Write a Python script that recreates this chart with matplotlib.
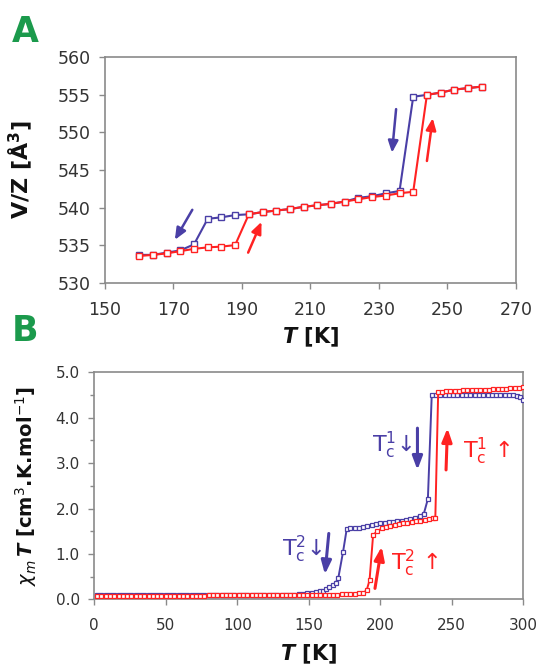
import matplotlib
matplotlib.use("Agg")
import matplotlib.pyplot as plt

plt.rcParams['font.family'] = ['DejaVu Sans']
plt.rcParams['mathtext.fontset'] = 'dejavusans'

BLUE = '#4a3fa6'
RED = '#ff2222'
GREEN = '#1b9a4c'
SPINE = '#8a8a8a'
TXT = '#333333'

# ---------------- Panel A data ----------------
tA = [160, 164, 168, 172, 176, 180, 184, 188, 192, 196, 200, 204, 208, 212,
      216, 220, 224, 228, 232, 236, 240, 244, 248, 252, 256, 260]
vz_heat = [533.55, 533.7, 533.9, 534.2, 534.5, 534.7, 534.8, 535.0, 539.1, 539.4,
           539.6, 539.8, 540.1, 540.3, 540.5, 540.8, 541.1, 541.4, 541.6, 541.9,
           542.1, 555.0, 555.3, 555.7, 555.9, 556.1]
vz_cool = [533.7, 533.7, 534.0, 534.3, 535.1, 538.5, 538.7, 539.0, 539.1, 539.4,
           539.6, 539.8, 540.1, 540.3, 540.5, 540.8, 541.3, 541.5, 541.9, 542.2,
           554.75, 555.0, 555.3, 555.7, 555.9, 556.1]
xticksA = [150, 170, 190, 210, 230, 250, 270]
yticksA = [530, 535, 540, 545, 550, 555, 560]

# ---------------- Panel B data ----------------
tB_heat = [2, 5, 8, 11, 14, 17, 20, 23, 26, 29, 32, 35, 38, 41, 44, 47, 50, 53, 56, 59,
           62, 65, 68, 71, 74, 77, 80, 83, 86, 89, 92, 95, 98, 101, 104, 107, 110, 113,
           116, 119, 122, 125, 128, 131, 134, 137, 140, 143, 146, 149, 152, 155, 158,
           161, 164, 167, 170, 173, 176, 179, 182, 185, 188,
           190.5, 192.5, 195, 198, 201, 204, 207, 210, 213, 216, 219, 222, 225, 228,
           231, 234, 237, 238.5,
           240.5, 243, 246, 249, 252, 255, 258, 261, 264, 267, 270, 273, 276, 279,
           282, 285, 288, 291, 294, 297, 300]
chi_heat = [0.08, 0.08, 0.08, 0.08, 0.08, 0.08, 0.08, 0.08, 0.08, 0.08, 0.08, 0.08,
            0.08, 0.08, 0.08, 0.08, 0.08, 0.08, 0.08, 0.08, 0.08, 0.08, 0.08, 0.08,
            0.08, 0.08, 0.09, 0.09, 0.09, 0.09, 0.09, 0.09, 0.09, 0.09, 0.09, 0.09,
            0.09, 0.09, 0.09, 0.09, 0.09, 0.09, 0.09, 0.09, 0.09, 0.09, 0.10, 0.10,
            0.10, 0.10, 0.10, 0.10, 0.10, 0.10, 0.10, 0.10, 0.10, 0.11, 0.11, 0.12,
            0.12, 0.13, 0.14,
            0.20, 0.42, 1.42, 1.50, 1.56, 1.60, 1.62, 1.64, 1.66, 1.67, 1.69, 1.70,
            1.72, 1.73, 1.75, 1.76, 1.78, 1.79,
            4.56, 4.57, 4.58, 4.58, 4.59, 4.59, 4.60, 4.60, 4.61, 4.61, 4.62, 4.62,
            4.62, 4.63, 4.63, 4.64, 4.64, 4.65, 4.65, 4.66, 4.68]

tB_cool = [2, 5, 8, 11, 14, 17, 20, 23, 26, 29, 32, 35, 38, 41, 44, 47, 50, 53, 56, 59,
           62, 65, 68, 71, 74, 77, 80, 83, 86, 89, 92, 95, 98, 101, 104, 107, 110, 113,
           116, 119, 122, 125, 128, 131, 134, 137, 140, 143, 146, 149,
           152, 155, 158, 160, 162, 164.4, 166.7, 168.8, 170.6, 174, 176.5,
           179, 182, 185, 188, 191, 194, 197, 200, 203, 206, 209, 212, 215, 218, 221,
           224, 227.8, 230.5, 233.3,
           236, 239, 242, 245, 248, 251, 254, 257, 260, 263, 266, 269, 272, 275, 278,
           281, 284, 287, 290, 293, 295.5, 297.8, 300]
chi_cool = [0.09, 0.09, 0.09, 0.09, 0.09, 0.09, 0.09, 0.09, 0.09, 0.09, 0.09, 0.09,
            0.09, 0.09, 0.09, 0.09, 0.09, 0.09, 0.09, 0.09, 0.09, 0.09, 0.09, 0.09,
            0.09, 0.09, 0.09, 0.09, 0.09, 0.09, 0.09, 0.09, 0.09, 0.09, 0.09, 0.09,
            0.09, 0.09, 0.09, 0.09, 0.10, 0.10, 0.10, 0.10, 0.10, 0.10, 0.10, 0.11,
            0.12, 0.13,
            0.14, 0.16, 0.18, 0.19, 0.22, 0.26, 0.31, 0.37, 0.46, 1.05, 1.54,
            1.56, 1.57, 1.58, 1.60, 1.62, 1.64, 1.66, 1.67, 1.69, 1.70, 1.71, 1.72,
            1.73, 1.75, 1.76, 1.79, 1.84, 1.89, 2.21,
            4.50, 4.51, 4.51, 4.51, 4.51, 4.51, 4.51, 4.51, 4.51, 4.51, 4.51, 4.51,
            4.51, 4.51, 4.51, 4.51, 4.51, 4.51, 4.50, 4.49, 4.47, 4.46, 4.40]
xticksB = [0, 50, 100, 150, 200, 250, 300]
yticksB = [0.0, 1.0, 2.0, 3.0, 4.0, 5.0]

fig = plt.figure(figsize=(5.4, 6.67), dpi=100)
axA = fig.add_axes([0.1944, 0.5762, 0.7611, 0.3379])
axB = fig.add_axes([0.1746, 0.1015, 0.7944, 0.3403])


def style(ax, fs):
    for s in ax.spines.values():
        s.set_color(SPINE)
        s.set_linewidth(1.2)
    ax.tick_params(axis='both', which='both', direction='out', color=SPINE,
                   labelcolor=TXT, labelsize=fs, width=1.0)
    ax.tick_params(axis='both', which='major', length=4.5)
    ax.tick_params(axis='both', which='minor', length=3)


# ---- Panel A ----
axA.plot(tA, vz_cool, color=BLUE, lw=1.5, marker='s', ms=4.6, mfc='white',
         mec=BLUE, mew=1.0, zorder=3)
axA.plot(tA, vz_heat, color=RED, lw=1.5, marker='s', ms=4.0, mfc='white',
         mec=RED, mew=1.0, zorder=4)
axA.set_xlim(150, 270)
axA.set_ylim(530, 560)
axA.set_xticks(xticksA)
axA.set_yticks(yticksA)
style(axA, 12.5)
axA.tick_params(axis='x', pad=9)
axA.tick_params(axis='y', pad=6)
axA.set_ylabel('V/Z [Å$^\\mathbf{3}$]', fontsize=16, fontweight='bold', color='#111111')
axA.set_xlabel('$\\mathbfit{T}$ [K]', fontsize=15, fontweight='bold', color='#111111')
axA.yaxis.set_label_coords(-0.17, 0.5)
axA.xaxis.set_label_coords(0.5, -0.19)

arrA = [((175.5, 539.7), (170.4, 535.7), BLUE),
        ((191.8, 534.0), (195.7, 538.1), RED),
        ((235.0, 553.1), (233.8, 547.3), BLUE),
        ((244.0, 546.2), (245.7, 551.9), RED)]
for (x0, y0), (x1, y1), c in arrA:
    axA.annotate('', xy=(x1, y1), xytext=(x0, y0),
                 arrowprops=dict(arrowstyle='-|>,head_length=0.7,head_width=0.3',
                                 color=c, lw=1.8, shrinkA=0, shrinkB=0))

# ---- Panel B ----
axB.plot(tB_cool, chi_cool, color=BLUE, lw=1.4, marker='s', ms=3.4, mfc='white',
         mec=BLUE, mew=0.9, zorder=3)
axB.plot(tB_heat, chi_heat, color=RED, lw=1.4, marker='s', ms=3.2, mfc='white',
         mec=RED, mew=0.9, zorder=4)
axB.set_xlim(0, 300)
axB.set_ylim(0, 5)
axB.set_xticks(xticksB)
axB.set_yticks(yticksB)
axB.set_yticklabels(['%.1f' % v for v in yticksB])
axB.set_yticks([0.5, 1.5, 2.5, 3.5, 4.5], minor=True)
style(axB, 11)
axB.tick_params(axis='x', pad=9)
axB.tick_params(axis='y', pad=6)
axB.set_ylabel('$\\chi_m\\,\\mathbfit{T}$ [cm$^3$.K.mol$^{-1}$]', fontsize=14,
               fontweight='bold', color='#111111')
axB.set_xlabel('$\\mathbfit{T}$ [K]', fontsize=15, fontweight='bold', color='#111111')
axB.yaxis.set_label_coords(-0.13, 0.5)
axB.xaxis.set_label_coords(0.5, -0.19)

arrB = [((226, 3.77), (226, 2.85), BLUE),
        ((246, 2.85), (247, 3.77), RED),
        ((164, 1.45), (161.3, 0.55), BLUE),
        ((196.3, 0.24), (201, 1.16), RED)]
for (x0, y0), (x1, y1), c in arrB:
    axB.annotate('', xy=(x1, y1), xytext=(x0, y0),
                 arrowprops=dict(arrowstyle='-|>,head_length=0.8,head_width=0.3',
                                 color=c, lw=2.2, shrinkA=0, shrinkB=0))

labB = [(194.2, 3.25, '$\\mathrm{T}_\\mathrm{c}^\\mathrm{1}$↓', BLUE),
        (258.0, 3.10, '$\\mathrm{T}_\\mathrm{c}^\\mathrm{1}$ ↑', RED),
        (131.0, 0.94, '$\\mathrm{T}_\\mathrm{c}^\\mathrm{2}$↓', BLUE),
        (207.3, 0.65, '$\\mathrm{T}_\\mathrm{c}^\\mathrm{2}$ ↑', RED)]
for x, y, s, c in labB:
    axB.text(x, y, s, color=c, fontsize=16, ha='left', va='baseline')

fig.text(12 / 540, 1 - 42 / 667, 'A', color=GREEN, fontsize=25, fontweight='bold',
         ha='left', va='baseline')
fig.text(12 / 540, 1 - 341 / 667, 'B', color=GREEN, fontsize=25, fontweight='bold',
         ha='left', va='baseline')

fig.savefig('out.png', dpi=100)
